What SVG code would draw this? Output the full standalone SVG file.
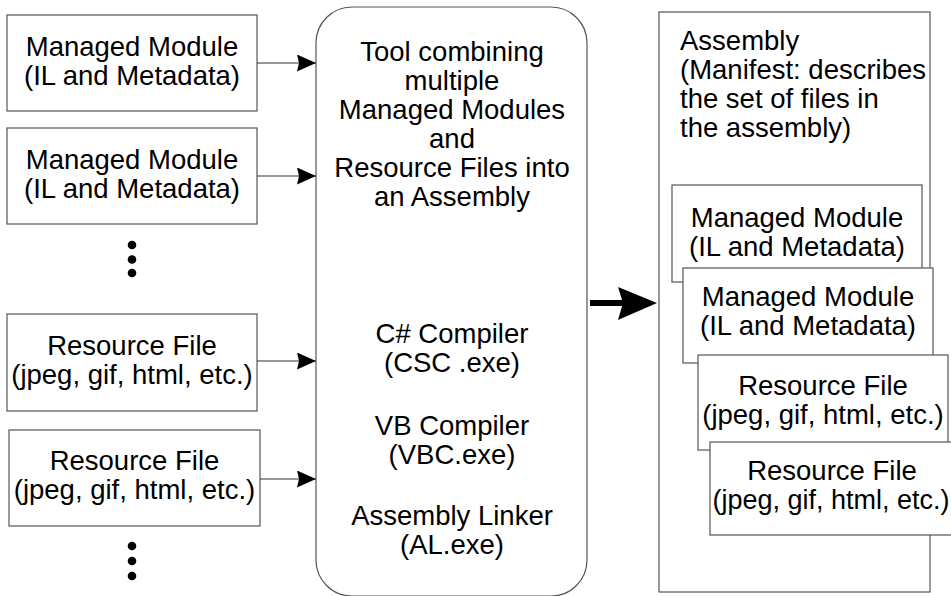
<svg xmlns="http://www.w3.org/2000/svg" width="951" height="596" viewBox="0 0 951 596">
<style>
.box{fill:#fff;stroke:#555;stroke-width:1.2}
.t{font-family:"Liberation Sans",Arial,sans-serif;font-size:27.5px;fill:#000}
.c{text-anchor:middle}
.s{font-size:27px}
.ln{stroke:#333;stroke-width:1.2;fill:none}
.dot{fill:#000}
</style>
<defs>
<marker id="ah" markerWidth="20" markerHeight="18" refX="19" refY="8.5" orient="auto" markerUnits="userSpaceOnUse">
<path d="M0,0 L19,8.5 L0,17 L2,8.5 Z" fill="#000"/>
</marker>
</defs>
<rect width="951" height="596" fill="#fff"/>

<g id="mm1">
<rect class="box" x="7" y="15" width="250" height="96"/>
<text class="t c" x="132" y="56">Managed Module</text>
<text class="t c" x="132" y="85">(IL and Metadata)</text>
</g>
<g id="mm2">
<rect class="box" x="7" y="128" width="250" height="96"/>
<text class="t c" x="132" y="169">Managed Module</text>
<text class="t c" x="132" y="198">(IL and Metadata)</text>
</g>
<g id="dots1">
<circle class="dot" cx="132" cy="245" r="4.3"/>
<circle class="dot" cx="132" cy="259.5" r="4.3"/>
<circle class="dot" cx="132" cy="273" r="4.3"/>
</g>
<g id="rf1">
<rect class="box" x="7" y="314" width="250" height="97"/>
<text class="t c" x="132" y="355">Resource File</text>
<text class="t c" x="132" y="384">(jpeg, gif, html, etc.)</text>
</g>
<g id="rf2">
<rect class="box" x="9" y="430" width="251" height="96"/>
<text class="t c" x="134.5" y="470">Resource File</text>
<text class="t c" x="134.5" y="499">(jpeg, gif, html, etc.)</text>
</g>
<g id="dots2">
<circle class="dot" cx="132" cy="546" r="4.3"/>
<circle class="dot" cx="132" cy="561" r="4.3"/>
<circle class="dot" cx="132" cy="576" r="4.3"/>
</g>

<g id="tool">
<rect class="box" x="316" y="7" width="271" height="589" rx="36" ry="36"/>
<text class="t c" x="452" y="61">Tool combining</text>
<text class="t c" x="452" y="90">multiple</text>
<text class="t c" x="452" y="119">Managed Modules</text>
<text class="t c" x="452" y="148">and</text>
<text class="t c" x="452" y="177">Resource Files into</text>
<text class="t c" x="452" y="206">an Assembly</text>
<text class="t c" x="452" y="343">C# Compiler</text>
<text class="t c" x="452" y="372">(CSC .exe)</text>
<text class="t c" x="452" y="435">VB Compiler</text>
<text class="t c" x="452" y="464">(VBC.exe)</text>
<text class="t c" x="452" y="525">Assembly Linker</text>
<text class="t c" x="452" y="554">(AL.exe)</text>
</g>

<g id="assembly">
<rect class="box" x="659" y="12" width="271" height="580"/>
<text class="t" x="680" y="50">Assembly</text>
<text class="t" x="680" y="79">(Manifest: describes</text>
<text class="t" x="680" y="108">the set of files in</text>
<text class="t" x="680" y="137">the assembly)</text>
</g>
<g id="amm1">
<rect class="box" x="672" y="185" width="250" height="97"/>
<text class="t c" x="797" y="227">Managed Module</text>
<text class="t c" x="797" y="256">(IL and Metadata)</text>
</g>
<g id="amm2">
<rect class="box" x="683" y="268" width="250" height="95"/>
<text class="t c" x="808" y="306">Managed Module</text>
<text class="t c" x="808" y="335">(IL and Metadata)</text>
</g>
<g id="arf1">
<rect class="box" x="698" y="355" width="250" height="95"/>
<text class="t c" x="823" y="395">Resource File</text>
<text class="t c" x="823" y="424">(jpeg, gif, html, etc.)</text>
</g>
<g id="arf2">
<rect class="box" x="710" y="442" width="250" height="93"/>
<text class="t c" x="832" y="480">Resource File</text>
<text class="t c s" x="831" y="509">(jpeg, gif, html, etc.)</text>
</g>

<g id="connectors">
<line class="ln" x1="257" y1="63" x2="316" y2="63" marker-end="url(#ah)"/>
<line class="ln" x1="257" y1="176" x2="316" y2="176" marker-end="url(#ah)"/>
<line class="ln" x1="257" y1="361" x2="316" y2="361" marker-end="url(#ah)"/>
<line class="ln" x1="260" y1="479" x2="316" y2="479" marker-end="url(#ah)"/>
<line x1="590" y1="303" x2="624" y2="303" stroke="#000" stroke-width="6"/>
<path d="M618,287 L657,303 L618,320 L623,303 Z" fill="#000"/>
</g>
</svg>
